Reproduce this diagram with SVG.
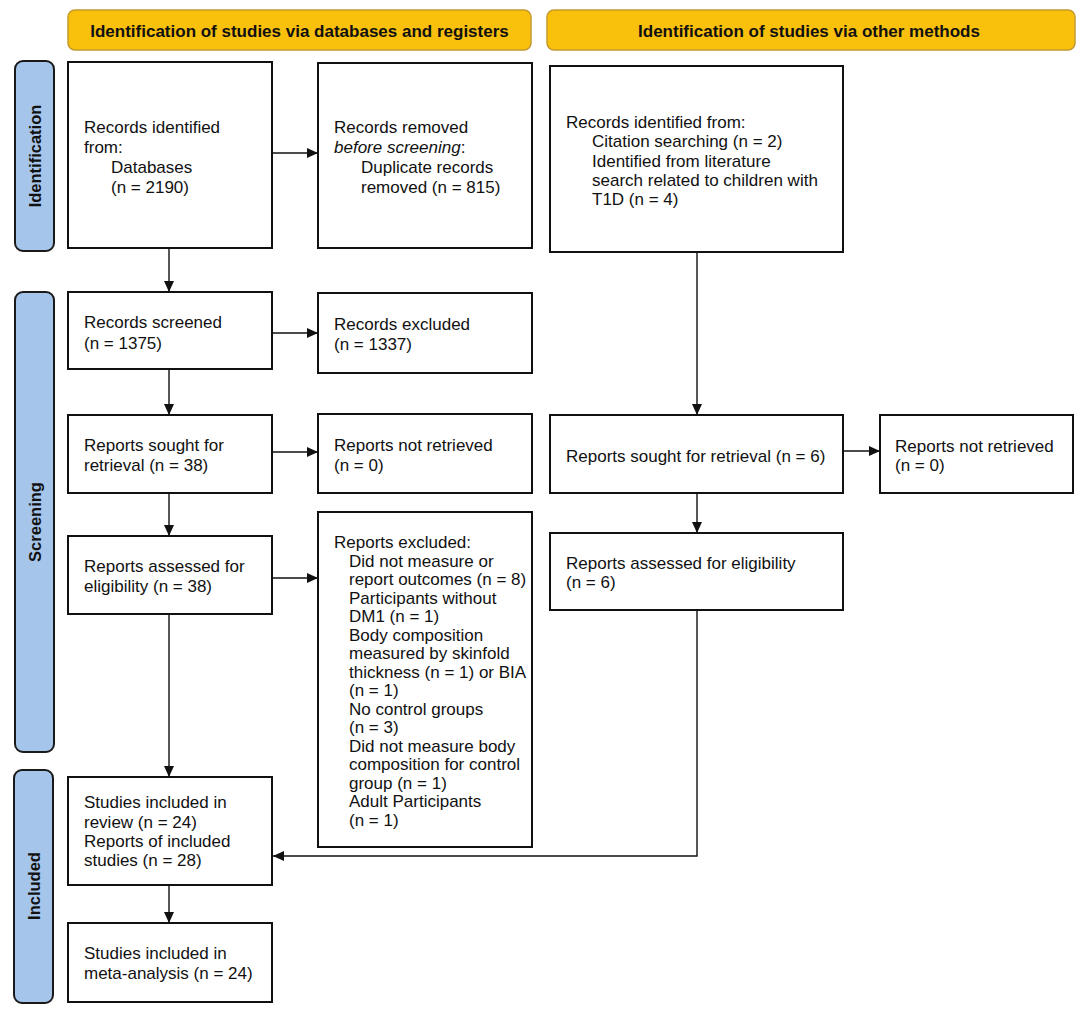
<svg xmlns="http://www.w3.org/2000/svg" width="1084" height="1015" viewBox="0 0 1084 1015">
<defs>
<marker id="ah" markerWidth="11" markerHeight="10" refX="11" refY="5" orient="auto" markerUnits="userSpaceOnUse">
<path d="M0,0 L11,5 L0,10 z" fill="#111"/>
</marker>
<style>
.hdr{fill:#f9c00c;stroke:#c49a2c;stroke-width:1.5}
.hdrt{font-family:"Liberation Sans",Arial,sans-serif;font-weight:bold;font-size:17px;fill:#111;text-anchor:middle}
.side{fill:#a6c5ea;stroke:#1a1a1a;stroke-width:2}
.sidet{font-family:"Liberation Sans",Arial,sans-serif;font-weight:bold;font-size:16.5px;fill:#111;text-anchor:middle;dominant-baseline:central}
.box{fill:#fff;stroke:#111;stroke-width:2}
.t{font-family:"Liberation Sans",Arial,sans-serif;font-size:17px;fill:#111}
.con{fill:none;stroke:#111;stroke-width:1.4}
</style>
</defs>
<rect width="1084" height="1015" fill="#fff"/>

<g id="header-databases">
<rect class="hdr" x="68" y="10" width="463" height="40" rx="7"/>
<text class="hdrt" x="299.5" y="37">Identification of studies via databases and registers</text>
</g>
<g id="header-other">
<rect class="hdr" x="547" y="10" width="528" height="40" rx="7"/>
<text class="hdrt" x="809" y="37">Identification of studies via other methods</text>
</g>

<g id="label-identification">
<rect class="side" x="15" y="61" width="39" height="190" rx="8"/>
<text class="sidet" transform="translate(35,156) rotate(-90)">Identification</text>
</g>
<g id="label-screening">
<rect class="side" x="15" y="292" width="39" height="460" rx="8"/>
<text class="sidet" transform="translate(35,522) rotate(-90)">Screening</text>
</g>
<g id="label-included">
<rect class="side" x="14" y="770" width="39" height="233" rx="8"/>
<text class="sidet" transform="translate(34,886) rotate(-90)">Included</text>
</g>

<g id="records-identified">
<rect class="box" x="68" y="62" width="204" height="186"/>
<text class="t" x="84" y="133">Records identified</text>
<text class="t" x="84" y="153">from:</text>
<text class="t" x="111" y="173">Databases</text>
<text class="t" x="111" y="193">(n = 2190)</text>
</g>
<g id="records-removed">
<rect class="box" x="318" y="63" width="214" height="185"/>
<text class="t" x="334" y="133">Records removed</text>
<text class="t" x="334" y="153"><tspan font-style="italic">before screening</tspan>:</text>
<text class="t" x="361" y="173">Duplicate records</text>
<text class="t" x="361" y="193">removed (n = 815)</text>
</g>
<g id="records-other">
<rect class="box" x="550" y="66" width="293" height="186"/>
<text class="t" x="566" y="128">Records identified from:</text>
<text class="t" x="592" y="147.3">Citation searching (n = 2)</text>
<text class="t" x="592" y="166.6">Identified from literature</text>
<text class="t" x="592" y="186">search related to children with</text>
<text class="t" x="592" y="205.3">T1D (n = 4)</text>
</g>

<g id="records-screened">
<rect class="box" x="68" y="292" width="204" height="77"/>
<text class="t" x="84" y="328">Records screened</text>
<text class="t" x="84" y="349">(n = 1375)</text>
</g>
<g id="records-excluded">
<rect class="box" x="318" y="293" width="214" height="80"/>
<text class="t" x="334" y="330">Records excluded</text>
<text class="t" x="334" y="350">(n = 1337)</text>
</g>

<g id="reports-sought">
<rect class="box" x="68" y="415" width="204" height="78"/>
<text class="t" x="84" y="451">Reports sought for</text>
<text class="t" x="84" y="471">retrieval (n = 38)</text>
</g>
<g id="reports-not-retrieved">
<rect class="box" x="318" y="414" width="214" height="79"/>
<text class="t" x="334" y="451">Reports not retrieved</text>
<text class="t" x="334" y="471">(n = 0)</text>
</g>
<g id="reports-sought-other">
<rect class="box" x="550" y="415" width="293" height="78"/>
<text class="t" x="566" y="462">Reports sought for retrieval (n = 6)</text>
</g>
<g id="reports-not-retrieved-other">
<rect class="box" x="880" y="415" width="193" height="78"/>
<text class="t" x="895" y="452">Reports not retrieved</text>
<text class="t" x="895" y="471">(n = 0)</text>
</g>

<g id="reports-assessed">
<rect class="box" x="68" y="536" width="204" height="78"/>
<text class="t" x="84" y="572">Reports assessed for</text>
<text class="t" x="84" y="592">eligibility (n = 38)</text>
</g>
<g id="reports-excluded">
<rect class="box" x="318" y="512" width="214" height="335"/>
<text class="t" x="334" y="548">Reports excluded:</text>
<text class="t" x="349" y="566.5">Did not measure or</text>
<text class="t" x="349" y="585.1">report outcomes (n = 8)</text>
<text class="t" x="349" y="603.6">Participants without</text>
<text class="t" x="349" y="622.1">DM1 (n = 1)</text>
<text class="t" x="349" y="640.7">Body composition</text>
<text class="t" x="349" y="659.2">measured by skinfold</text>
<text class="t" x="349" y="677.7">thickness (n = 1) or BIA</text>
<text class="t" x="349" y="696.2">(n = 1)</text>
<text class="t" x="349" y="714.8">No control groups</text>
<text class="t" x="349" y="733.3">(n = 3)</text>
<text class="t" x="349" y="751.8">Did not measure body</text>
<text class="t" x="349" y="770.4">composition for control</text>
<text class="t" x="349" y="788.9">group (n = 1)</text>
<text class="t" x="349" y="807.4">Adult Participants</text>
<text class="t" x="349" y="826">(n = 1)</text>
</g>
<g id="reports-assessed-other">
<rect class="box" x="550" y="533" width="293" height="77"/>
<text class="t" x="566" y="569">Reports assessed for eligibility</text>
<text class="t" x="566" y="588">(n = 6)</text>
</g>

<g id="studies-included">
<rect class="box" x="68" y="777" width="204" height="108"/>
<text class="t" x="84" y="808">Studies included in</text>
<text class="t" x="84" y="828">review (n = 24)</text>
<text class="t" x="84" y="847">Reports of included</text>
<text class="t" x="84" y="866">studies (n = 28)</text>
</g>
<g id="studies-meta">
<rect class="box" x="68" y="923" width="204" height="79"/>
<text class="t" x="84" y="959">Studies included in</text>
<text class="t" x="84" y="979">meta-analysis (n = 24)</text>
</g>

<g id="connectors">
<line class="con" x1="169" y1="248" x2="169" y2="292" marker-end="url(#ah)"/>
<line class="con" x1="272" y1="153" x2="318" y2="153" marker-end="url(#ah)"/>
<line class="con" x1="272" y1="333" x2="318" y2="333" marker-end="url(#ah)"/>
<line class="con" x1="169" y1="369" x2="169" y2="415" marker-end="url(#ah)"/>
<line class="con" x1="272" y1="452" x2="318" y2="452" marker-end="url(#ah)"/>
<line class="con" x1="169" y1="493" x2="169" y2="536" marker-end="url(#ah)"/>
<line class="con" x1="272" y1="578" x2="318" y2="578" marker-end="url(#ah)"/>
<line class="con" x1="169" y1="614" x2="169" y2="777" marker-end="url(#ah)"/>
<line class="con" x1="697" y1="252" x2="697" y2="415" marker-end="url(#ah)"/>
<line class="con" x1="843" y1="451" x2="880" y2="451" marker-end="url(#ah)"/>
<line class="con" x1="697" y1="493" x2="697" y2="533" marker-end="url(#ah)"/>
<polyline class="con" points="697,610 697,856 273,856" marker-end="url(#ah)"/>
<line class="con" x1="169" y1="885" x2="169" y2="923" marker-end="url(#ah)"/>
</g>
</svg>
